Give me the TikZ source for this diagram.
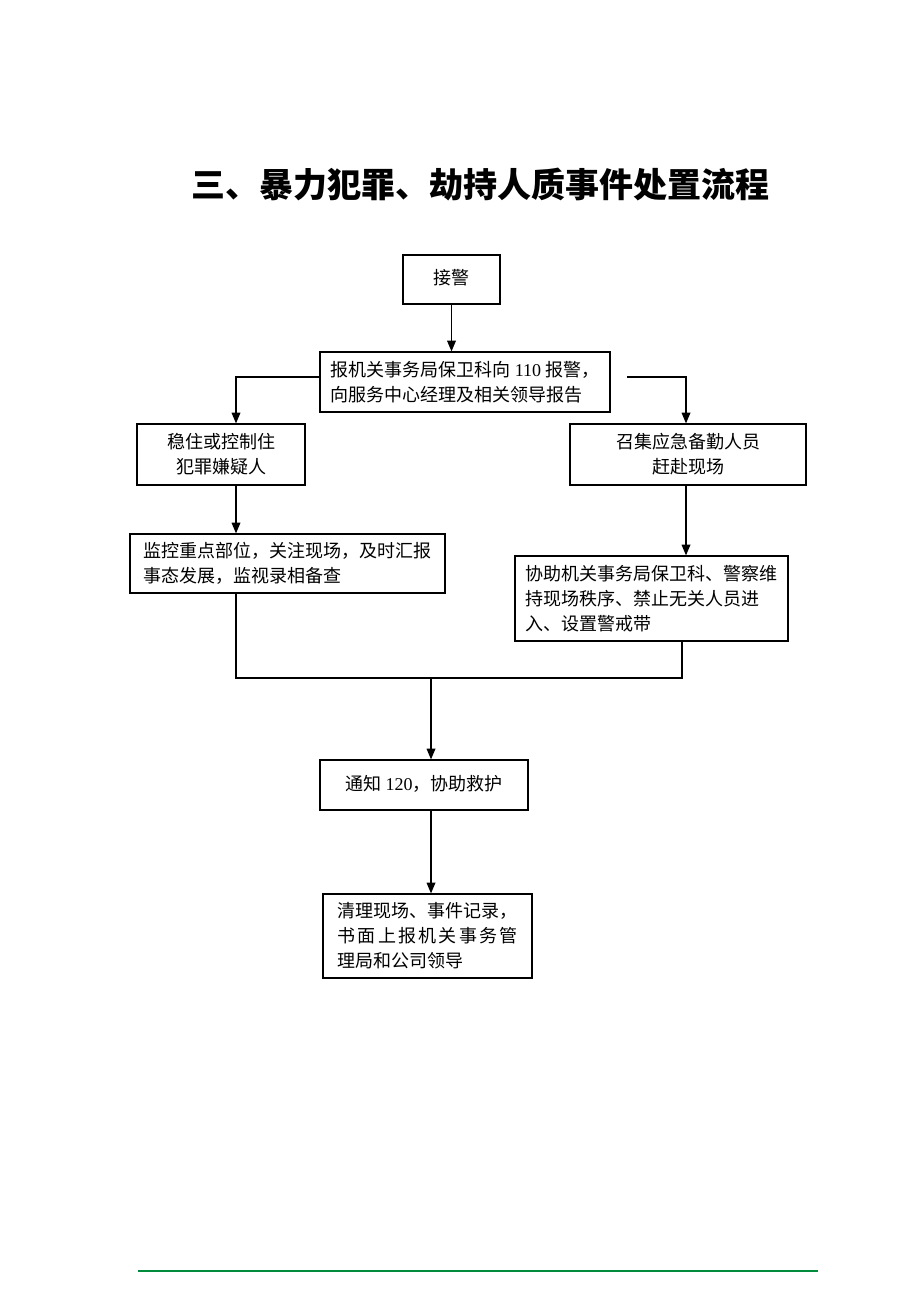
\documentclass[tikz,border=0pt]{standalone}
\usepackage{fontspec}
\setmainfont{Liberation Serif}
\newfontfamily\cjk{Noto Sans CJK SC}
\usetikzlibrary{arrows.meta}
\definecolor{lineg}{RGB}{0,140,60}
\begin{document}
\begin{tikzpicture}[x=0.75pt,y=-0.75pt,
 box/.style={draw, line width=0.9pt, inner sep=0pt, font=\cjk\fontsize{13.5}{18.75}\selectfont},
 arr/.style={line width=0.9pt, -{Triangle[length=8pt,width=6.5pt]}},
 ln/.style={line width=0.9pt}]
\useasboundingbox (0,0) rectangle (920,1302);
\node[font=\cjk\bfseries\fontsize{25.5}{30}\selectfont] (title) at (480,185) {三、暴力犯罪、劫持人质事件处置流程};
\node[box, minimum width=72.75pt, minimum height=36.75pt] (b1) at (451.5,279.5) {\raisebox{3.5pt}{接警}};
\node[box, minimum width=217.5pt, minimum height=45pt, align=left] (b2) at (465,382) {报机关事务局保卫科向 {\rmfamily 110} 报警，\\向服务中心经理及相关领导报告};
\node[box, minimum width=126pt, minimum height=45.75pt, align=center] (b3l) at (221,454.5) {稳住或控制住\\犯罪嫌疑人};
\node[box, minimum width=177pt, minimum height=45.75pt, align=center] (b3r) at (688,454.5) {召集应急备勤人员\\赶赴现场};
\node[box, minimum width=236.25pt, minimum height=44.25pt, align=left] (b4l) at (287.5,563.5) {监控重点部位，关注现场，及时汇报\\事态发展，监视录相备查};
\node[box, minimum width=204.75pt, minimum height=63.75pt, align=left] (b4r) at (651.5,598.5) {协助机关事务局保卫科、警察维\\持现场秩序、禁止无关人员进\\入、设置警戒带};
\node[box, minimum width=156pt, minimum height=37.5pt] (b5) at (424,785) {\raisebox{3.5pt}{通知 {\rmfamily 120}，协助救护}};
\node[box, minimum width=156.75pt, minimum height=63pt, align=left] (b6) at (427.5,936) {清理现场、事件记录，\\\hbox to 135pt{书\hfill 面\hfill 上\hfill 报\hfill 机\hfill 关\hfill 事\hfill 务\hfill 管}\\理局和公司领导};
% connectors
\draw[arr] (b1) -- (b1 |- b2.north);
\coordinate (lc) at (236,377);
\coordinate (rs) at (627,377);
\coordinate (rc) at (686,377);
\draw[arr] (b2.west |- lc) -- (lc) -- (lc |- b3l.north);
\draw[arr] (rs) -- (rc) -- (rc |- b3r.north);
\coordinate (lx) at (236,0);
\coordinate (rx) at (686,0);
\draw[arr] (lx |- b3l.south) -- (lx |- b4l.north);
\draw[arr] (rx |- b3r.south) -- (rx |- b4r.north);
\coordinate (ml) at (236,678);
\coordinate (mr) at (682,678);
\coordinate (mm) at (431,678);
\draw[ln] (ml |- b4l.south) -- (ml) -- (mr) -- (mr |- b4r.south);
\draw[arr] (mm) -- (mm |- b5.north);
\draw[arr] (mm |- b5.south) -- (mm |- b6.north);
\coordinate (g1) at (138,1271);
\coordinate (g2) at (818,1271);
\draw[lineg, line width=1.5pt] (g1) -- (g2);
\end{tikzpicture}
\end{document}
